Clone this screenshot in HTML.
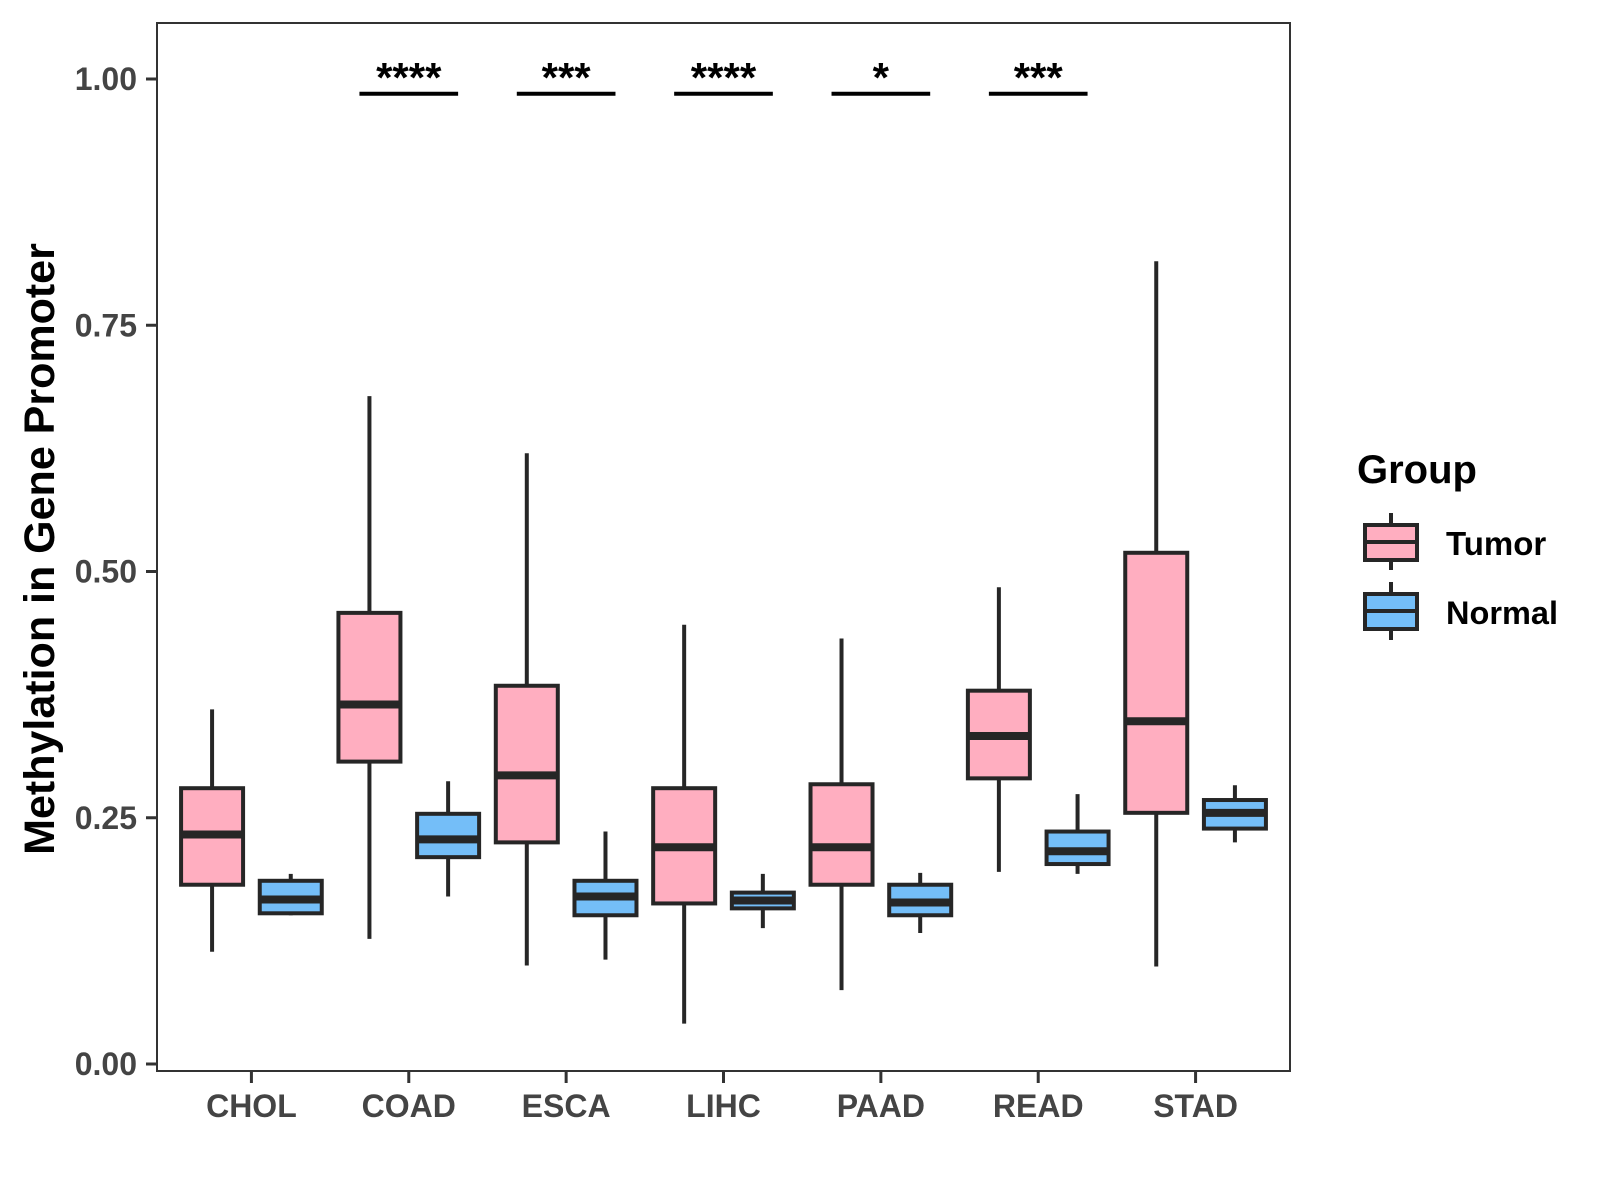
<!DOCTYPE html>
<html><head><meta charset="utf-8"><style>
html,body{margin:0;padding:0;background:#fff;}
svg{display:block;}
text{font-family:"Liberation Sans",Arial,sans-serif;font-weight:bold;}
</style></head><body>
<svg id="chart" width="1600" height="1200" viewBox="0 0 1600 1200" xmlns="http://www.w3.org/2000/svg">
<rect width="1600" height="1200" fill="#fff"/>
<g id="plot"></g>
<rect x="157" y="23" width="1133" height="1048" fill="none" stroke="#333" stroke-width="2"/>
<text transform="translate(54,549) rotate(-90)" text-anchor="middle" font-size="43" fill="#000">Methylation in Gene Promoter</text>
<g>
<text x="1357" y="483" font-size="40" fill="#000">Group</text>
<g>
<line x1="1391" y1="513" x2="1391" y2="570" stroke="#262626" stroke-width="4"/>
<rect x="1365" y="525" width="52" height="35" fill="#FFAEC0" stroke="#262626" stroke-width="4"/>
<line x1="1365" y1="542" x2="1417" y2="542" stroke="#262626" stroke-width="4"/>
<text x="1446" y="555" font-size="33" fill="#000">Tumor</text>
</g>
<g>
<line x1="1391" y1="582" x2="1391" y2="640" stroke="#262626" stroke-width="4"/>
<rect x="1365" y="594" width="52" height="35" fill="#74BEF8" stroke="#262626" stroke-width="4"/>
<line x1="1365" y1="611" x2="1417" y2="611" stroke="#262626" stroke-width="4"/>
<text x="1446" y="624" font-size="32.5" fill="#000">Normal</text>
</g>
</g>
</svg>
<script>
const categories = ["CHOL","COAD","ESCA","LIHC","PAAD","READ","STAD"];
const yTicks = [0, 0.25, 0.5, 0.75, 1.0];
const yTickLabels = ["0.00","0.25","0.50","0.75","1.00"];
// [lowerWhisker, q1, median, q3, upperWhisker]
const tumorStats = [
  [0.114,0.182,0.233,0.280,0.360],
  [0.127,0.307,0.365,0.458,0.678],
  [0.100,0.225,0.293,0.384,0.620],
  [0.041,0.163,0.220,0.280,0.446],
  [0.075,0.182,0.220,0.284,0.432],
  [0.195,0.290,0.333,0.379,0.484],
  [0.099,0.255,0.348,0.519,0.815]
];
const normalStats = [
  [0.151,0.153,0.167,0.186,0.193],
  [0.170,0.210,0.228,0.254,0.287],
  [0.106,0.151,0.170,0.186,0.236],
  [0.138,0.158,0.166,0.174,0.193],
  [0.133,0.151,0.164,0.182,0.194],
  [0.193,0.203,0.216,0.236,0.274],
  [0.225,0.239,0.255,0.268,0.283]
];
const sigLabels = ["","****","***","****","*","***",""];
const sigLevel = 0.985;

const NS="http://www.w3.org/2000/svg";
const plot=document.getElementById('plot');
const left=157,right=1290,step=(right-left)/(categories.length-1+1.2);
const xPos=i=>left+step*(0.6+i);
const yPos=v=>1064-v*985;
function mk(tag,attrs,parent){const e=document.createElementNS(NS,tag);for(const k in attrs)e.setAttribute(k,attrs[k]);(parent||plot).appendChild(e);return e;}

yTicks.forEach((t,i)=>{
  const g=mk('g',{});
  
  
  mk('line',{x1:146,x2:157,y1:yPos(t),y2:yPos(t),stroke:'#333','stroke-width':3},g);
  const tx=mk('text',{x:137,y:yPos(t)+11,'text-anchor':'end','font-size':32,fill:'#444'},g);
  tx.textContent=yTickLabels[i];
});
categories.forEach((c,i)=>{
  const g=mk('g',{});
  
  
  mk('line',{x1:xPos(i),x2:xPos(i),y1:1071,y2:1083,stroke:'#333','stroke-width':3},g);
  const tx=mk('text',{x:xPos(i),y:1117,'text-anchor':'middle','font-size':32,fill:'#444'},g);
  tx.textContent=c;
});
const bw=62, off=step*0.25;
function box(s,cx,fill,name){
  const g=mk('g',{});
  
  
  mk('line',{x1:cx,x2:cx,y1:yPos(s[0]),y2:yPos(s[4]),stroke:'#262626','stroke-width':4},g);
  mk('rect',{x:cx-bw/2,y:yPos(s[3]),width:bw,height:yPos(s[1])-yPos(s[3]),fill:fill,stroke:'#262626','stroke-width':4},g);
  mk('line',{x1:cx-bw/2,x2:cx+bw/2,y1:yPos(s[2]),y2:yPos(s[2]),stroke:'#262626','stroke-width':8},g);
}
categories.forEach((c,i)=>{
  box(tumorStats[i],xPos(i)-off,'#FFAEC0','box-tumor-'+c.toLowerCase());
  box(normalStats[i],xPos(i)+off,'#74BEF8','box-normal-'+c.toLowerCase());
  if(sigLabels[i]){
    const g=mk('g',{});
    
    
    mk('line',{x1:xPos(i)-off-10,x2:xPos(i)+off+10,y1:yPos(sigLevel),y2:yPos(sigLevel),stroke:'#000','stroke-width':4},g);
    const t=mk('text',{x:xPos(i),y:yPos(sigLevel)-2,'text-anchor':'middle','font-size':42,fill:'#000'},g);
    t.textContent=sigLabels[i];
  }
});
</script>
</body></html>
